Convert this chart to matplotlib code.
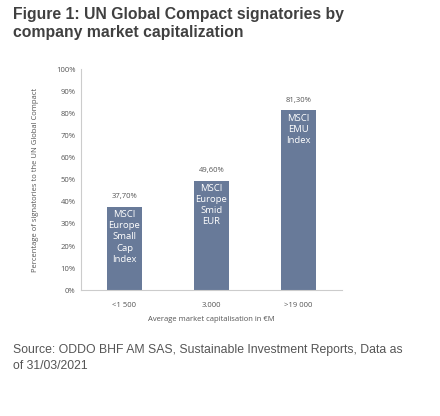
import matplotlib
matplotlib.use("Agg")
import matplotlib.pyplot as plt

categories = ["<1 500", "3.000", ">19 000"]
values = [37.7, 49.6, 81.3]
value_labels = ["37,70%", "49,60%", "81,30%"]
bar_names = ["MSCI\nEurope\nSmall\nCap\nIndex", "MSCI\nEurope\nSmid\nEUR", "MSCI\nEMU\nIndex"]
yticks = list(range(0, 101, 10))

plt.rcParams["font.family"] = ["Open Sans", "DejaVu Sans"]

fig = plt.figure(figsize=(4.4, 4.16), dpi=100)
ax = fig.add_axes([0.184, 0.302, 0.593, 0.532])

c_bar = "#687a99"
bars = ax.bar(range(len(categories)), values, width=0.4, color=c_bar, zorder=2)

for i, (v, lab, name) in enumerate(zip(values, value_labels, bar_names)):
    ax.text(i, v + 3, lab, ha="center", va="bottom", fontsize=5.5, color="#555555")
    ax.text(i, v - 1.5, name, ha="center", va="top", fontsize=6.8, color="white",
            linespacing=1.3)

ax.set_xlim(-0.5, 2.5)
ax.set_ylim(0, 100)
ax.set_xticks(range(len(categories)))
ax.set_xticklabels(categories)
ax.set_yticks(yticks)
ax.set_yticklabels([f"{t}%" for t in yticks])
ax.tick_params(axis="both", length=0, labelsize=5.5, labelcolor="#555555")
ax.tick_params(axis="x", pad=8.5)
ax.tick_params(axis="y", pad=4)

for s in ["top", "right"]:
    ax.spines[s].set_visible(False)
for s in ["left", "bottom"]:
    ax.spines[s].set_color("#cccccc")
    ax.spines[s].set_linewidth(0.8)

ax.set_ylabel("Percentage of signatories to the UN Global Compact", fontsize=5.5,
              color="#555555", labelpad=12)
ax.set_xlabel("Average market capitalisation in €M", fontsize=5.5, color="#555555",
              labelpad=5)

fig.text(0.03, 0.982, "Figure 1: UN Global Compact signatories by\ncompany market capitalization",
         ha="left", va="top", fontsize=11.3, fontweight="bold", color="#404040",
         family=["Liberation Sans", "DejaVu Sans"], linespacing=1.2)
fig.text(0.03, 0.172, "Source: ODDO BHF AM SAS, Sustainable Investment Reports, Data as\nof 31/03/2021",
         ha="left", va="top", fontsize=8.8, color="#555555",
         family=["Liberation Sans", "DejaVu Sans"], linespacing=1.35)

fig.savefig("out.png", dpi=100)
